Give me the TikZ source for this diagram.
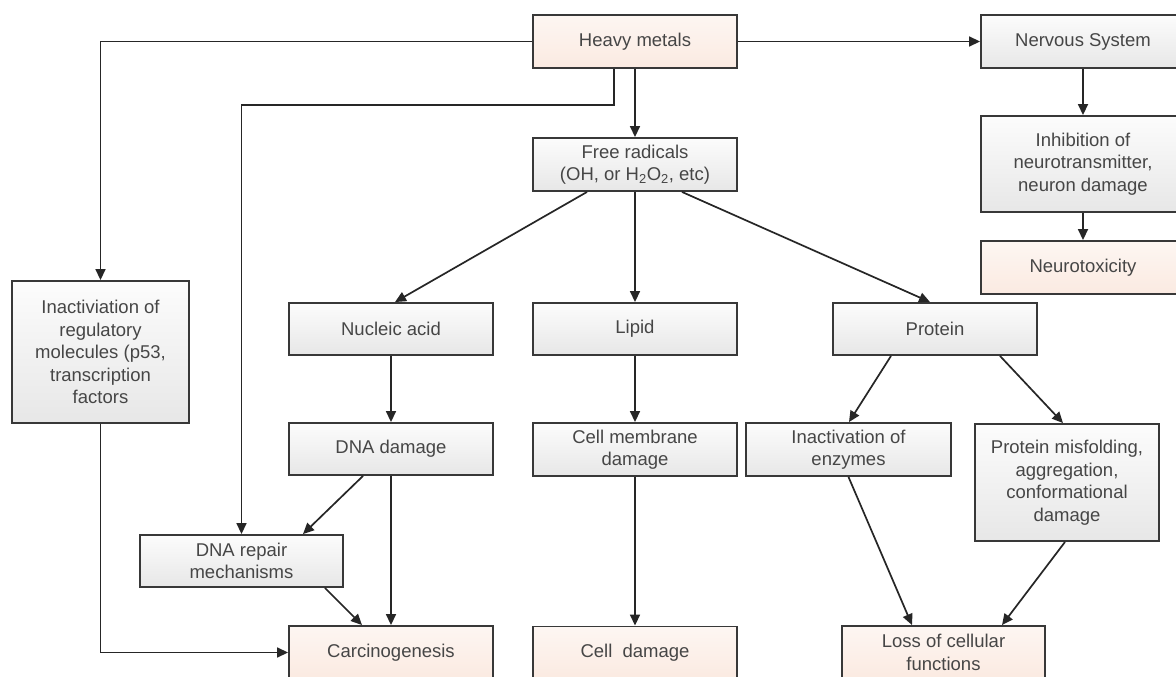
\documentclass[tikz,border=0pt]{standalone}
\usepackage{fontspec}
\setmainfont{Liberation Sans}
\usetikzlibrary{arrows.meta,calc}
\definecolor{txtc}{HTML}{464646}
\definecolor{edgec}{HTML}{383838}
\definecolor{gtop}{HTML}{FCFCFC}
\definecolor{gbot}{HTML}{E7E7E7}
\definecolor{ptop}{HTML}{FDF6F2}
\definecolor{pbot}{HTML}{FBEAE1}
\tikzset{
  basebox/.style={draw=edgec, line width=1.9pt, align=center, inner sep=2pt,
    text=txtc, font=\fontsize{18.5}{22.5}\selectfont},
  gbox/.style={basebox, top color=gtop, bottom color=gbot},
  pbox/.style={basebox, top color=ptop, bottom color=pbot},
  arr/.style={draw=black!85, line width=1.7pt, -{Triangle[length=11pt,width=10pt]}}
}
\begin{document}
\begin{tikzpicture}[x=1pt,y=-1pt]
\useasboundingbox (0,0) rectangle (1176,677);
\fill[white] (0,0) rectangle (1176,677);
\clip (0,0) rectangle (1176,677);
% boxes
\node[pbox, minimum width=204, minimum height=53] (hm) at (635,41.5) {Heavy metals};
\node[gbox, minimum width=204, minimum height=53] (ns) at (1083,41.5) {Nervous System};
\node[gbox, minimum width=204, minimum height=96] (inh) at (1083,164) {Inhibition of\\neurotransmitter,\\neuron damage};
\node[pbox, minimum width=204, minimum height=53] (neu) at (1083,267.5) {Neurotoxicity};
\node[gbox, minimum width=204, minimum height=53] (fr) at (635,164.5) {Free radicals\\(OH, or H\textsubscript{2}O\textsubscript{2}, etc)};
\node[gbox, minimum width=177, minimum height=142] (reg) at (100.5,352) {Inactiviation of\\regulatory\\molecules (p53,\\transcription\\factors};
\node[gbox, minimum width=204, minimum height=52] (na) at (391,329) {Nucleic acid};
\node[gbox, minimum width=204, minimum height=52] (lip) at (635,329) {Lipid};
\node[gbox, minimum width=204, minimum height=52] (pro) at (935,329) {Protein};
\node[gbox, minimum width=204, minimum height=52] (dna) at (391,449) {DNA damage};
\node[gbox, minimum width=204, minimum height=53] (cmd) at (635,449.5) {Cell membrane\\damage};
\node[gbox, minimum width=205, minimum height=53] (enz) at (848.5,449.5) {Inactivation of\\enzymes};
\node[gbox, minimum width=184, minimum height=117] (mis) at (1067,482.5) {Protein misfolding,\\aggregation,\\conformational\\damage};
\node[gbox, minimum width=203, minimum height=52] (rep) at (241.5,561) {DNA repair\\mechanisms};
\node[pbox, minimum width=204, minimum height=53] (car) at (391,652.5) {Carcinogenesis};
\node[pbox, minimum width=204, minimum height=53] (cd) at (635,653) {Cell\ \ damage};
\node[pbox, minimum width=203, minimum height=53] (loss) at (943.5,652.5) {Loss of cellular\\functions};
% connectors
\draw[arr] (hm.west) -| (reg.north);
\draw[arr] (hm.east) -- (ns.west);
\draw[arr] ([xshift=-21]hm.south) -- ++(0,36) -| (rep.north);
\draw[arr] (hm.south) -- (fr.north);
\draw[arr] ([xshift=-48]fr.south) -- ([xshift=4]na.north);
\draw[arr] (fr.south) -- (lip.north);
\draw[arr] ([xshift=47]fr.south) -- ([xshift=-5]pro.north);
\draw[arr] (ns.south) -- (inh.north);
\draw[arr] (inh.south) -- (neu.north);
\draw[arr] (na.south) -- (dna.north);
\draw[arr] (lip.south) -- (cmd.north);
\draw[arr] ([xshift=-44]pro.south) -- ([xshift=0.5]enz.north);
\draw[arr] ([xshift=65]pro.south) -- ([xshift=-4]mis.north);
\draw[arr] ([xshift=-28]dna.south) -- ([xshift=61.5]rep.north);
\draw[arr] (dna.south) -- (car.north);
\draw[arr] ([xshift=83.5]rep.south) -- ([xshift=-29]car.north);
\draw[arr] (reg.south) |- (car.west);
\draw[arr] (cmd.south) -- (cd.north);
\draw[arr] (enz.south) -- ([xshift=-31.5]loss.north);
\draw[arr] ([xshift=-2]mis.south) -- ([xshift=58.5]loss.north);
\end{tikzpicture}
\end{document}
